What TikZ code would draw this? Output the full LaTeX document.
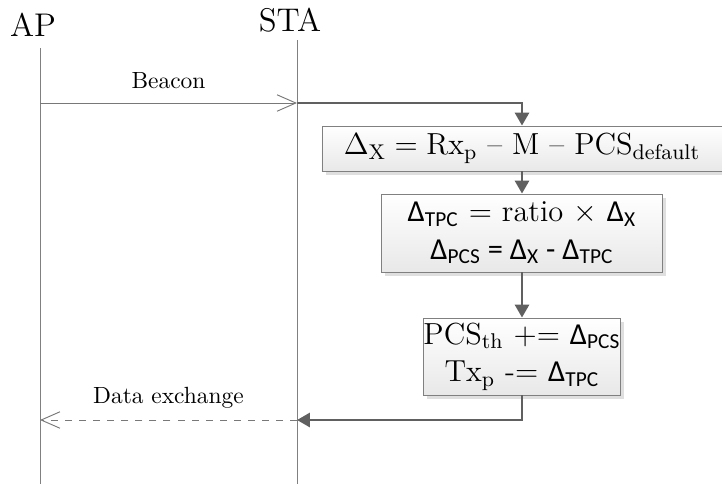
\RequirePackage{fix-cm}
\documentclass[tikz,border=0pt]{standalone}
\usepackage{fontspec}
\newfontfamily\cf{Carlito}
\usetikzlibrary{arrows.meta,shadows,positioning}
\definecolor{lifegray}{HTML}{808080}
\definecolor{flowgray}{HTML}{606060}
\newcommand\sdelta[1]{{\cf Δ\textsubscript{#1}}}

\begin{document}
\begin{tikzpicture}[x=0.015cm,y=-0.015cm,
  lifeline/.style={draw=lifegray, line width=0.4pt},
  msg/.style={draw=flowgray!85, line width=0.4pt, -{Straight Barb[length=8pt,width=7pt]}},
  flow/.style={draw=flowgray, line width=1.1pt, -{Triangle[length=5.5pt,width=6pt]}},
  procbox/.style={draw=lifegray, top color=white, bottom color=gray!18,
    drop shadow={opacity=0.25, shadow xshift=1.5pt, shadow yshift=-1.5pt},
    inner sep=0pt, align=center, font=\fontsize{13}{16}\selectfont},
  head/.style={font=\fontsize{14}{16}\selectfont}]
  \useasboundingbox (0,0) rectangle (722,484);
  % lifelines
  \node[head] (ap) at (33,25) {AP};
  \node[head] (sta) at (290,20) {STA};
  \coordinate (apTop) at (40,48);
  \coordinate (apEnd) at (40,484);
  \coordinate (staTop) at (297,40);
  \coordinate (staEnd) at (297,484);
  \draw[lifeline] (apTop) -- (apEnd);
  \draw[lifeline] (staTop) -- (staEnd);
  % message points
  \coordinate (apBeacon) at (40,103);
  \coordinate (staBeacon) at (297,103);
  \coordinate (staData) at (297,420);
  \coordinate (apData) at (40,420);
  % processing at the STA
  \node[procbox, minimum width=6cm, minimum height=0.675cm] (delta) at (522,148.5)
    {$\Delta_{\mathrm{X}} = \mathrm{Rx}_{\mathrm{p}}$ -- M -- $\mathrm{PCS}_{\mathrm{default}}$};
  \node[procbox, minimum width=4.215cm, minimum height=1.17cm] (split) at (522,233)
    {\sdelta{TPC} $=$ ratio $\times$ \sdelta{X}\\
     {\cf Δ\textsubscript{PCS} = Δ\textsubscript{X} - Δ\textsubscript{TPC}}};
  \node[procbox, minimum width=2.94cm, minimum height=1.155cm] (update) at (522,356.5)
    {$\mathrm{PCS}_{\mathrm{th}}$ $\mathrel{+}\mathrel{=}$ \sdelta{PCS}\\
     $\mathrm{Tx}_{\mathrm{p}}$ -$=$ \sdelta{TPC}};
  % messages
  \draw[msg] (apBeacon) -- node[above=2.5pt] (beacon) {Beacon} (staBeacon);
  \draw[flow] (staBeacon) -| (delta.north);
  \draw[flow] (delta.south) -- (split.north);
  \draw[flow] (split.south) -- (update.north);
  \draw[flow] (update.south) |- (staData);
  \draw[msg, dashed] (staData) -- node[above=1.5pt] (data) {Data exchange} (apData);
\end{tikzpicture}
\end{document}
